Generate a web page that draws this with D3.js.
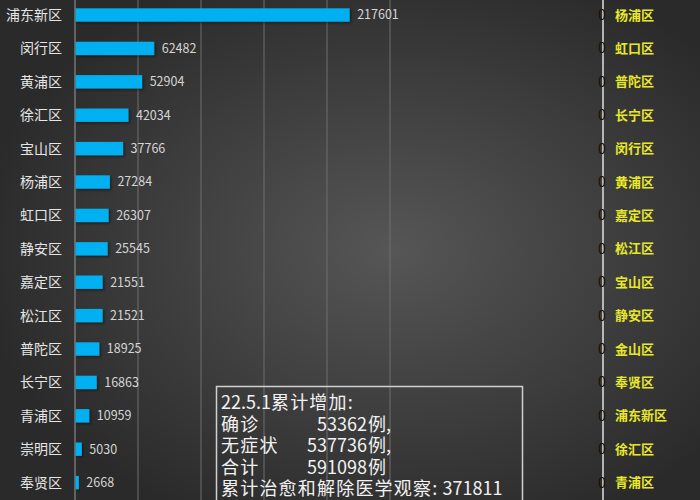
<!DOCTYPE html>
<html lang="zh">
<head>
  <meta charset="UTF-8">
  <title>上海各区累计</title>
  <style>
  html, body { margin: 0; padding: 0; background: #333; }
  svg { display: block; font-family: "Noto Sans CJK SC", "Noto Sans", sans-serif; }
  .name { fill: #e6e6e6; font-size: 14px; }
  .val { fill: #d6d6d6; font-size: 12.5px; }
  .rname { fill: #e8e829; font-size: 13px; font-weight: bold; }
  .zero { fill: #111; font-size: 14px; }
  .note { fill: #f2f2f2; font-size: 18px; }
  .cjk { letter-spacing: 1.2px; }
  </style>
</head>
<body>
  <svg></svg>
  <script src="https://d3js.org/d3.v7.min.js"></script>
  <script>

  var districts = ['浦东新区', '闵行区', '黄浦区', '徐汇区', '宝山区', '杨浦区', '虹口区', '静安区',
                   '嘉定区', '松江区', '普陀区', '长宁区', '青浦区', '崇明区', '奉贤区'];
  var cases = [217601, 62482, 52904, 42034, 37766, 27284, 26307, 25545,
               21551, 21521, 18925, 16863, 10959, 5030, 2668];

  // second series on the right axis, all zero
  var rightDistricts = ['杨浦区', '虹口区', '普陀区', '长宁区', '闵行区', '黄浦区', '嘉定区', '松江区',
                        '宝山区', '静安区', '金山区', '奉贤区', '浦东新区', '徐汇区', '青浦区'];
  var rightValues = [0, 0, 0, 0, 0, 0, 0, 0, 0, 0, 0, 0, 0, 0, 0];

  var noteDate = '22.5.1';
  var noteTitle = '累计增加:';
  var noteLabels = ['确诊', '无症状', '合计'];
  var noteValues = ['53362', '537736', '591098'];
  var noteUnits = ['例,', '例,', '例'];
  var noteLast = '累计治愈和解除医学观察:';
  var noteLastValue = '371811';

  var width = 700, height = 500;
  var svg = d3.select('svg').attr('width', width).attr('height', height);

  var defs = svg.append('defs');
  var grad = defs.append('radialGradient')
    .attr('id', 'bg')
    .attr('cx', '0.56').attr('cy', '0.5').attr('r', '0.6');
  grad.append('stop').attr('offset', '0%').attr('stop-color', '#565656');
  grad.append('stop').attr('offset', '100%').attr('stop-color', '#2a2a2a');

  var shadow = defs.append('filter').attr('id', 'shadow')
    .attr('x', '-10%').attr('y', '-30%').attr('width', '130%').attr('height', '180%');
  shadow.append('feDropShadow')
    .attr('dx', 1.5).attr('dy', 1.5).attr('stdDeviation', 1)
    .attr('flood-color', '#000').attr('flood-opacity', 0.45);

  svg.append('rect').attr('width', width).attr('height', height).attr('fill', 'url(#bg)');

  var x = d3.scaleLinear().domain([0, 250000]).range([75, 390]);
  var y = d3.scaleBand().domain(d3.range(districts.length))
    .range([-1.7, 499.3]).paddingInner(0.6).paddingOuter(0.3);

  // gridlines
  svg.append('g')
    .selectAll('line')
    .data(x.ticks(5).slice(1))
    .join('line')
    .attr('x1', function (d) { return x(d); })
    .attr('x2', function (d) { return x(d); })
    .attr('y1', 0).attr('y2', height)
    .attr('stroke', '#6e6e6e').attr('stroke-width', 1);

  // left axis line
  svg.append('line')
    .attr('x1', x(0)).attr('x2', x(0)).attr('y1', 0).attr('y2', height)
    .attr('stroke', '#9a9a9a').attr('stroke-width', 1);

  svg.append('g')
    .selectAll('rect')
    .data(cases)
    .join('rect')
    .attr('x', x(0) + 0.5)
    .attr('y', function (d, i) { return y(i); })
    .attr('width', function (d) { return x(d) - x(0); })
    .attr('height', y.bandwidth())
    .attr('fill', '#00b0f0')
    .attr('filter', 'url(#shadow)');

  svg.append('g')
    .selectAll('text')
    .data(cases)
    .join('text')
    .attr('class', 'val')
    .attr('x', function (d) { return x(d) + 8; })
    .attr('y', function (d, i) { return y(i) + y.bandwidth() / 2; })
    .attr('dy', '0.35em')
    .text(function (d) { return d; });

  svg.append('g')
    .selectAll('text')
    .data(districts)
    .join('text')
    .attr('class', 'name')
    .attr('text-anchor', 'end')
    .attr('x', 62)
    .attr('y', function (d, i) { return y(i) + y.bandwidth() / 2; })
    .attr('dy', '0.35em')
    .text(function (d) { return d; });

  // right axis (reversed, zero values)
  var xr = d3.scaleLinear().domain([0, 250000]).range([603, 288]);

  svg.append('line')
    .attr('x1', xr(0)).attr('x2', xr(0)).attr('y1', 0).attr('y2', height)
    .attr('stroke', '#e0e0e0').attr('stroke-width', 1.5);

  svg.append('g')
    .selectAll('text')
    .data(rightValues)
    .join('text')
    .attr('class', 'zero')
    .attr('text-anchor', 'middle')
    .attr('x', function (d) { return xr(d) - 1; })
    .attr('y', function (d, i) { return y(i) + y.bandwidth() / 2; })
    .attr('dy', '0.35em')
    .text(function (d) { return d; });

  svg.append('g')
    .selectAll('text')
    .data(rightDistricts)
    .join('text')
    .attr('class', 'rname')
    .attr('x', 615)
    .attr('y', function (d, i) { return y(i) + y.bandwidth() / 2; })
    .attr('dy', '0.35em')
    .text(function (d) { return d; });

  // note box
  var box = svg.append('g');
  box.append('rect')
    .attr('x', 216.5).attr('y', 386.5).attr('width', 306).attr('height', 130)
    .attr('fill', 'none').attr('stroke', '#d0d0d0').attr('stroke-width', 1.5);

  var lineH = 21.6, base = 409;
  var t0 = box.append('text').attr('class', 'note').attr('x', 221).attr('y', base);
  t0.append('tspan').text(noteDate);
  t0.append('tspan').attr('class', 'cjk').text(noteTitle);

  noteLabels.forEach(function (lab, i) {
    var yy = base + lineH * (i + 1);
    box.append('text').attr('class', 'note cjk').attr('x', 221).attr('y', yy).text(lab);
    box.append('text').attr('class', 'note').attr('text-anchor', 'end')
      .attr('x', 367).attr('y', yy).text(noteValues[i]);
    box.append('text').attr('class', 'note').attr('x', 368).attr('y', yy).text(noteUnits[i]);
  });

  var tl = box.append('text').attr('class', 'note').attr('x', 221).attr('y', base + lineH * 4);
  tl.append('tspan').attr('class', 'cjk').text(noteLast);
  tl.append('tspan').text(' ' + noteLastValue);
  </script>
</body>
</html>
